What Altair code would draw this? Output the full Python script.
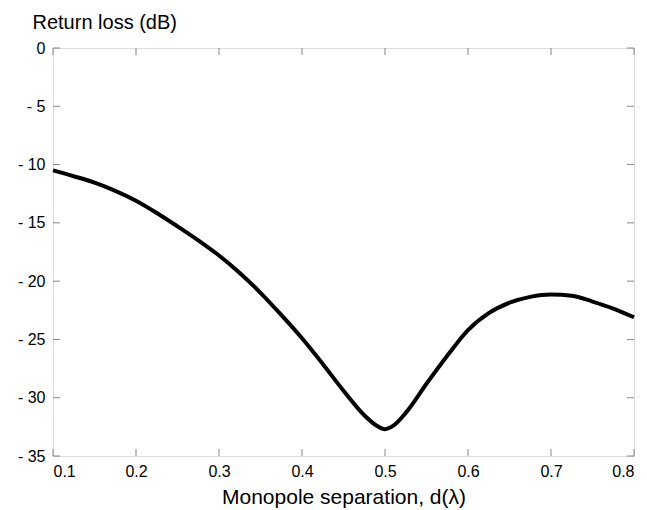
import altair as alt
import pandas as pd

# Data
sep = [0.100, 0.125, 0.150, 0.175, 0.200, 0.225, 0.250, 0.275, 0.300, 0.325,
       0.350, 0.375, 0.400, 0.425, 0.450, 0.475, 0.490, 0.500, 0.510, 0.525,
       0.550, 0.575, 0.600, 0.625, 0.650, 0.675, 0.700, 0.725, 0.750, 0.775, 0.800]
loss = [-10.5, -11.0, -11.55, -12.25, -13.1, -14.15, -15.3, -16.5, -17.8, -19.3,
        -21.0, -22.9, -24.9, -27.1, -29.4, -31.5, -32.4, -32.7, -32.4, -31.3,
        -28.8, -26.4, -24.2, -22.75, -21.85, -21.35, -21.15, -21.25, -21.75, -22.35, -23.1]

x_ticks = [0.1, 0.2, 0.3, 0.4, 0.5, 0.6, 0.7, 0.8]
y_ticks = [0, -5, -10, -15, -20, -25, -30, -35]

W, H = 581, 408
FONT = "Liberation Sans"
FRAME = "#555555"

df = pd.DataFrame({"sep": sep, "loss": loss})
xt = pd.DataFrame({"x": x_ticks})
yt = pd.DataFrame({"y": y_ticks})

xscale = alt.Scale(domain=[0.1, 0.8], nice=False, zero=False)
yscale = alt.Scale(domain=[-35, 0], nice=False, zero=False)

line = alt.Chart(df).mark_line(color="black", strokeWidth=4, interpolate="monotone").encode(
    x=alt.X("sep:Q", scale=xscale,
            axis=alt.Axis(values=x_ticks, format=".1f", domain=False, ticks=False, grid=False,
                          labelFont=FONT, labelFontSize=16, labelColor="black", labelPadding=7,
                          title="Monopole separation, d(\u03bb)", titleFont=FONT, titleFontSize=21,
                          titleFontWeight="normal", titleColor="black", titlePadding=7)),
    y=alt.Y("loss:Q", scale=yscale,
            axis=alt.Axis(values=y_ticks, domain=False, ticks=False, grid=False,
                          labelExpr="datum.value < 0 ? '- ' + abs(datum.value) : '0'",
                          labelFont=FONT, labelFontSize=16, labelColor="black", labelPadding=8,
                          title="Return loss (dB)", titleFont=FONT, titleFontSize=20,
                          titleFontWeight="normal", titleColor="black", titleAngle=0,
                          titleAlign="left", titleBaseline="alphabetic", titleX=-21, titleY=-20)),
)

tick_style = dict(color=FRAME, thickness=1, size=7)
bottom = alt.Chart(xt).mark_tick(orient="vertical", **tick_style).encode(
    x=alt.X("x:Q", scale=xscale), y=alt.value(H - 3.5))
top = alt.Chart(xt).mark_tick(orient="vertical", **tick_style).encode(
    x=alt.X("x:Q", scale=xscale), y=alt.value(3.5))
left = alt.Chart(yt).mark_tick(orient="horizontal", **tick_style).encode(
    y=alt.Y("y:Q", scale=yscale), x=alt.value(3.5))
right = alt.Chart(yt).mark_tick(orient="horizontal", **tick_style).encode(
    y=alt.Y("y:Q", scale=yscale), x=alt.value(W - 3.5))

chart = alt.layer(bottom, top, left, right, line).properties(
    width=W, height=H,
    padding={"left": 45, "top": 40, "right": 5, "bottom": 54},
    autosize=alt.AutoSizeParams(type="none"),
).configure_view(stroke=FRAME, strokeWidth=1.2).configure(background="white")

chart.save("out.html", embed_options={"renderer": "svg", "actions": False})
